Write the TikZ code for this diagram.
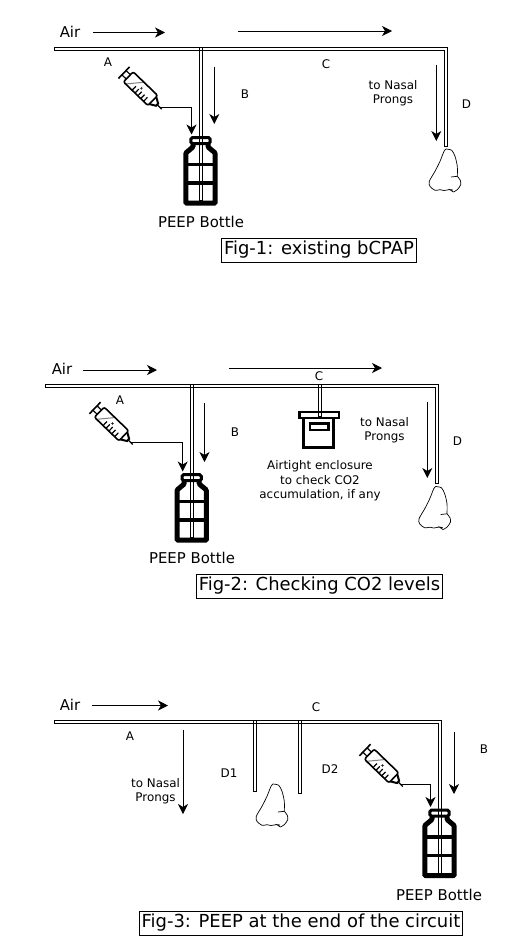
\documentclass[tikz,border=0pt]{standalone}
\usepackage{fontspec}
\setmainfont{DejaVu Sans}
\usetikzlibrary{arrows.meta}

\tikzset{
  flow/.style={-{Stealth[length=10pt,width=10pt,inset=3pt]},line width=0.9pt},
  tube/.style={line width=0.9pt},
  lab/.style={font=\fontsize{11.9}{14.5}\selectfont,align=center,inner sep=0pt},
  big/.style={font=\fontsize{14.9}{18}\selectfont,inner sep=0pt},
  figbox/.style={draw,line width=0.8pt,font=\fontsize{17.95}{22}\selectfont,inner xsep=2.5pt,inner ysep=0pt,minimum height=24pt},
  bottle/.pic={
    \draw[line width=3pt,rounded corners=1.5pt] (-9.6,-2.8) rectangle (9.6,3.2);
    \draw[line width=5pt,rounded corners=1pt] (-7.5,3.5) -- (-7.5,6.5) -- (-14.7,12.5)
      -- (-14.7,62.7) -- (14.7,62.7) -- (14.7,12.5) -- (7.5,6.5) -- (7.5,3.5);
    \draw[line width=3.5pt] (-14.7,24) -- (14.7,24);
    \draw[line width=3.5pt] (-14.7,42.5) -- (14.7,42.5);
    \coordinate (-in) at (-9,-6);
  },
  syringe/.pic={
    \draw[line width=1.6pt] (0,-8) -- (0,8);
    \draw[line width=1.2pt] (0,-3) -- (6,-3) (0,3) -- (6,3);
    \draw[gray,line width=1pt] (9,7) -- (21,-7);
    \draw[line width=1.6pt,rounded corners=2pt] (6,-7) rectangle (40,7);
    \foreach \tk in {18,22,26,30,34} {
      \draw[line width=1.2pt] (\tk,7) -- (\tk,1.5);
    }
    \draw[line width=0.5pt] (22.3,-1.9) -- (24.3,0.1) (22.3,0.1) -- (24.3,-1.9);
    \draw[line width=2pt] (40,-5) -- (46,-1.5) -- (46,1.5) -- (40,5);
    \draw[line width=1.2pt] (46,0) -- (52.5,0);
    \coordinate (-tip) at (49.5,0);
  },
  nose/.pic={
    \draw[line width=0.7pt] plot[smooth] coordinates {(0,0) (5.7,1.3) (9,7.3) (11.3,17.3) (11.3,27.3)};
    \draw[line width=0.7pt] (11.3,27.3) -- (5,28);
    \draw[line width=0.7pt] plot[smooth] coordinates {(11.3,27.3) (14.3,31.3) (14.7,35.7) (11.3,40.7) (7.3,43)};
    \draw[line width=0.7pt] (7.3,43) -- (3.5,40.5) -- (7,41);
    \draw[line width=0.7pt] plot[smooth] coordinates {(3.5,40.5) (-2,41.5) (-6,40.7) (-11,41.3) (-16,37.3)
      (-16.7,32.3) (-11,22.3) (-6,12.3) (-2,2.3) (0,0)};
  }
}

\begin{document}
\begin{tikzpicture}[x=1pt,y=-1pt]
  \useasboundingbox (0,0) rectangle (506,950);

  % Fig-1
  \node[big] (air1) at (70,32) {Air};
  \node[lab] (a1) at (108,62) {A};
  \node[lab] (b1) at (245,94) {B};
  \node[lab] (c1) at (326,64) {C};
  \node[lab] (d1) at (466.5,104) {D};
  \node[lab] (prongs1) at (393,93) {to Nasal\\Prongs};
  \node[big] (peep1) at (201,222) {PEEP Bottle};
  \node[figbox] (fig1) at (319,250) {Fig-1: existing bCPAP};
  \pic (bot1) at (200.5,140.5) {bottle};
  \pic[rotate=-44] (syr1) at (124,72.7) {syringe};
  \pic (nose1) at (446,149) {nose};
  \draw[tube] (54,47.5) -- (447.5,47.5) -- (447.5,146) -- (444.7,146) -- (444.7,50.3) -- (54,50.3) -- cycle;
  \draw[tube] (199.5,47.5) rectangle (202.3,200);
  \coordinate (f1a) at (93,32.5); \coordinate (f1b) at (165,32.5);
  \coordinate (f1c) at (238,31); \coordinate (f1d) at (392,31);
  \coordinate (f1e) at (214.3,66.7); \coordinate (f1f) at (214.3,124);
  \coordinate (f1g) at (436.3,65); \coordinate (f1h) at (436.3,141);
  \draw[flow] (f1a) -- (f1b); \draw[flow] (f1c) -- (f1d);
  \draw[flow] (f1e) -- (f1f); \draw[flow] (f1g) -- (f1h);
  \draw[flow] (syr1-tip) -| (bot1-in);

  % Fig-2
  \node[big] (air2) at (62,369) {Air};
  \node[lab] (a2) at (120,400) {A};
  \node[lab] (b2) at (235,432) {B};
  \node[lab] (c2) at (319,376) {C};
  \node[lab] (d2) at (457.5,441) {D};
  \node[lab] (prongs2) at (384.5,430) {to Nasal\\Prongs};
  \node[lab] (encl) at (320,481) {Airtight enclosure\\to check CO2\\accumulation, if any};
  \node[big] (peep2) at (192,558) {PEEP Bottle};
  \node[figbox] (fig2) at (319.5,586) {Fig-2: Checking CO2 levels};
  \pic (bot2) at (191.7,477.5) {bottle};
  \pic[rotate=-44] (syr2) at (95,408) {syringe};
  \pic (nose2) at (435.7,486.5) {nose};
  \draw[tube] (45,384.5) -- (438.3,384.5) -- (438.3,483) -- (435.3,483) -- (435.3,387.3) -- (45,387.3) -- cycle;
  \draw[tube] (190.3,384.5) rectangle (193.2,537);
  \draw[tube] (318.3,384.5) rectangle (321.7,416);
  \draw[line width=2.6pt] (299.5,412) rectangle (339,418);
  \draw[line width=2.6pt] (303.5,418) -- (303.5,447.5) -- (333.5,447.5) -- (333.5,418);
  \draw[line width=2.2pt] (310,423.5) rectangle (328.5,430);
  \coordinate (f2a) at (83,370); \coordinate (f2b) at (157,370);
  \coordinate (f2c) at (229,368); \coordinate (f2d) at (382,368);
  \coordinate (f2e) at (204.5,403); \coordinate (f2f) at (204.5,462);
  \coordinate (f2g) at (427.3,402); \coordinate (f2h) at (427.3,478);
  \draw[flow] (f2a) -- (f2b); \draw[flow] (f2c) -- (f2d);
  \draw[flow] (f2e) -- (f2f); \draw[flow] (f2g) -- (f2h);
  \draw[flow] (syr2-tip) -| (bot2-in);

  % Fig-3
  \node[big] (air3) at (70,705) {Air};
  \node[lab] (a3) at (130,736) {A};
  \node[lab] (b3) at (484,749) {B};
  \node[lab] (c3) at (316,707) {C};
  \node[lab] (d31) at (229,773) {D1};
  \node[lab] (d32) at (330,769) {D2};
  \node[lab] (prongs3) at (155.5,791) {to Nasal\\Prongs};
  \node[big] (peep3) at (439,895) {PEEP Bottle};
  \node[figbox] (fig3) at (301,923) {Fig-3: PEEP at the end of the circuit};
  \pic (bot3) at (439.5,813) {bottle};
  \pic[rotate=-44] (syr3) at (365,750) {syringe};
  \pic (nose3) at (273,784) {nose};
  \draw[tube] (54,720.7) -- (441.3,720.7) -- (441.3,873) -- (438.3,873) -- (438.3,723.3) -- (54,723.3) -- cycle;
  \draw[tube] (253.3,720.7) rectangle (256.3,791.3);
  \draw[tube] (298.7,720.7) rectangle (301.7,793.3);
  \coordinate (f3a) at (92,705.5); \coordinate (f3b) at (168,705.5);
  \coordinate (f3c) at (183,730); \coordinate (f3d) at (183,814);
  \coordinate (f3e) at (454,732); \coordinate (f3f) at (454,794);
  \draw[flow] (f3a) -- (f3b); \draw[flow] (f3c) -- (f3d); \draw[flow] (f3e) -- (f3f);
  \draw[flow] (syr3-tip) -| (bot3-in);
\end{tikzpicture}
\end{document}
